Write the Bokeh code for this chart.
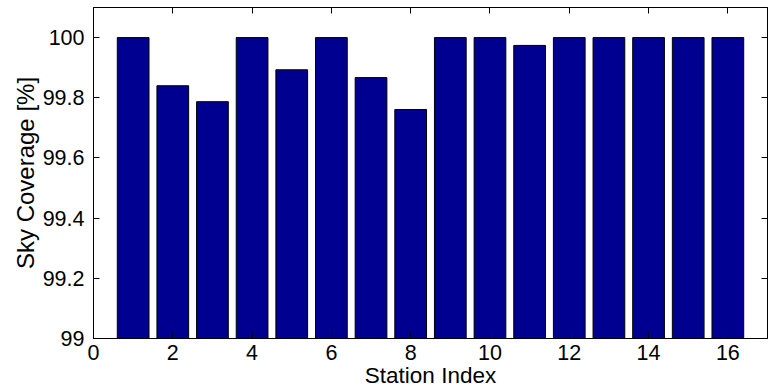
from bokeh.plotting import figure
from bokeh.models import Range1d, FixedTicker, LinearAxis, CustomJSTickFormatter
from bokeh.embed import file_html
from bokeh.resources import INLINE

stations = [1, 2, 3, 4, 5, 6, 7, 8, 9, 10, 11, 12, 13, 14, 15, 16]
coverage = [100.0, 99.84, 99.787, 100.0, 99.893, 100.0, 99.867, 99.761,
            100.0, 100.0, 99.974, 100.0, 100.0, 100.0, 100.0, 100.0]
x_ticks = [0, 2, 4, 6, 8, 10, 12, 14, 16]
y_ticks = [99, 99.2, 99.4, 99.6, 99.8, 100]
y_tick_labels = {99: "99", 99.2: "99.2", 99.4: "99.4", 99.6: "99.6", 99.8: "99.8", 100: "100"}

FONT = "Liberation Sans"
FS = "21.5px"

p = figure(width=771, height=390, output_backend="svg", toolbar_location=None,
           x_range=Range1d(0, 17), y_range=Range1d(99, 100.1),
           min_border_left=93, min_border_right=4, min_border_top=7, min_border_bottom=48)

p.vbar(x=stations, top=coverage, bottom=99, width=0.8,
       fill_color="#000090", line_color="black", line_width=1)

p.grid.visible = False
p.outline_line_color = "black"
p.outline_line_width = 1
p.background_fill_color = "white"
p.border_fill_color = "white"

def style(ax):
    ax.axis_line_color = "black"
    ax.axis_line_width = 1
    ax.major_tick_in = 6
    ax.major_tick_out = 0
    ax.minor_tick_line_color = None
    ax.major_tick_line_color = "black"
    ax.major_label_text_font = FONT
    ax.major_label_text_font_size = FS
    ax.major_label_text_color = "black"
    ax.axis_label_text_font = FONT
    ax.axis_label_text_font_style = "normal"
    ax.axis_label_text_color = "black"

xa = p.xaxis[0]
xa.ticker = FixedTicker(ticks=x_ticks)
xa.axis_label = "Station Index"
xa.major_label_standoff = 6
xa.axis_label_standoff = 0
style(xa)
xa.axis_label_text_font_size = "22.5px"

ya = p.yaxis[0]
ya.ticker = FixedTicker(ticks=y_ticks)
ya.major_label_overrides = y_tick_labels
ya.axis_label = "Sky Coverage [%]"
ya.major_label_standoff = 9
ya.axis_label_standoff = 1
style(ya)
ya.axis_label_text_font_size = "24px"

blank = CustomJSTickFormatter(code="return '';")

top = LinearAxis(ticker=FixedTicker(ticks=x_ticks[1:]), formatter=blank, major_label_standoff=0)
style(top)
p.add_layout(top, "above")

right = LinearAxis(ticker=FixedTicker(ticks=y_ticks[1:]), formatter=blank, major_label_standoff=0)
style(right)
p.add_layout(right, "right")

open("out.html", "w").write(file_html(p, INLINE))
